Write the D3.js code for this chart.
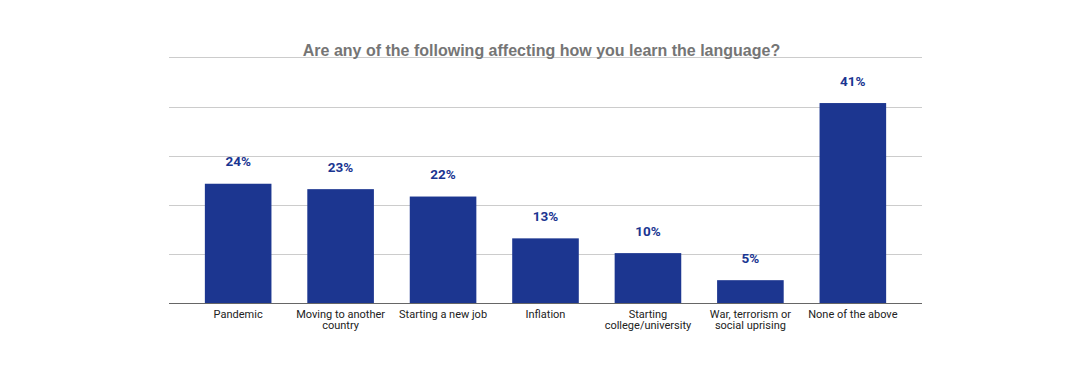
<!DOCTYPE html>
<html>
<head>
<meta charset="utf-8">
<script src="https://cdn.jsdelivr.net/npm/d3@7"></script>
<style>
  html, body { margin: 0; padding: 0; background: #fff; }
  svg { display: block; }
</style>
</head>
<body>
<svg id="chart" width="1089" height="365"></svg>
<script>
const categories = ["Pandemic", "Moving to another country", "Starting a new job", "Inflation", "Starting college/university", "War, terrorism or social uprising", "None of the above"];
const categoryLines = [["Pandemic"], ["Moving to another", "country"], ["Starting a new job"], ["Inflation"], ["Starting", "college/university"], ["War, terrorism or", "social uprising"], ["None of the above"]];
const values = [24.3, 23.2, 21.7, 13.2, 10.2, 4.7, 40.7];
const valueLabels = ["24%", "23%", "22%", "13%", "10%", "5%", "41%"];
const yTicks = [0, 10, 20, 30, 40, 50];
const title = "Are any of the following affecting how you learn the language?";

const svg = d3.select("#chart");
const plotLeft = 169, plotRight = 922, plotTop = 57.3, plotBottom = 303.3;

const x = d3.scaleBand().domain(categories).range([plotLeft, plotRight]).paddingInner(0.35).paddingOuter(0.35);
const y = d3.scaleLinear().domain([0, 50]).range([plotBottom, plotTop]);

// gridlines
svg.append("g").selectAll("line").data(yTicks.slice(1)).join("line")
  .attr("x1", plotLeft).attr("x2", plotRight)
  .attr("y1", d => Math.round(y(d)) + 0.5).attr("y2", d => Math.round(y(d)) + 0.5)
  .attr("stroke", "#cccccc").attr("stroke-width", 1);

// bars
svg.append("g").selectAll("rect").data(values).join("rect")
  .attr("x", (d, i) => x(categories[i]))
  .attr("width", x.bandwidth())
  .attr("y", d => y(d))
  .attr("height", d => y(0) - y(d))
  .attr("fill", "#1c3690");

// baseline
svg.append("line")
  .attr("x1", plotLeft).attr("x2", plotRight)
  .attr("y1", Math.round(y(0)) + 0.5).attr("y2", Math.round(y(0)) + 0.5)
  .attr("stroke", "#666666").attr("stroke-width", 1);

// value labels
svg.append("g").selectAll("text").data(values).join("text")
  .attr("x", (d, i) => x(categories[i]) + x.bandwidth() / 2)
  .attr("y", d => y(d) - 17.5)
  .attr("text-anchor", "middle")
  .attr("font-family", "Roboto, 'Liberation Sans', Arial, sans-serif")
  .attr("font-weight", "bold")
  .attr("font-size", "13.5px")
  .attr("fill", "#1a3591")
  .text((d, i) => valueLabels[i]);

// x axis labels
const xl = svg.append("g").selectAll("text").data(categories).join("text")
  .attr("x", d => x(d) + x.bandwidth() / 2)
  .attr("y", 317.5)
  .attr("text-anchor", "middle")
  .attr("font-family", "Roboto, 'Liberation Sans', Arial, sans-serif")
  .attr("font-size", "11px")
  .attr("fill", "#222222");
xl.each(function(d, i) {
  d3.select(this).selectAll("tspan").data(categoryLines[i]).join("tspan")
    .attr("x", x(d) + x.bandwidth() / 2)
    .attr("dy", (t, j) => j === 0 ? 0 : 11.5)
    .text(t => t);
});

// title
svg.append("text")
  .attr("x", 541.5)
  .attr("y", 55.5)
  .attr("text-anchor", "middle")
  .attr("font-family", "'Liberation Sans', Arial, sans-serif")
  .attr("font-weight", "bold")
  .attr("font-size", "16px")
  .attr("fill", "#757575")
  .text(title);
</script>
</body>
</html>
